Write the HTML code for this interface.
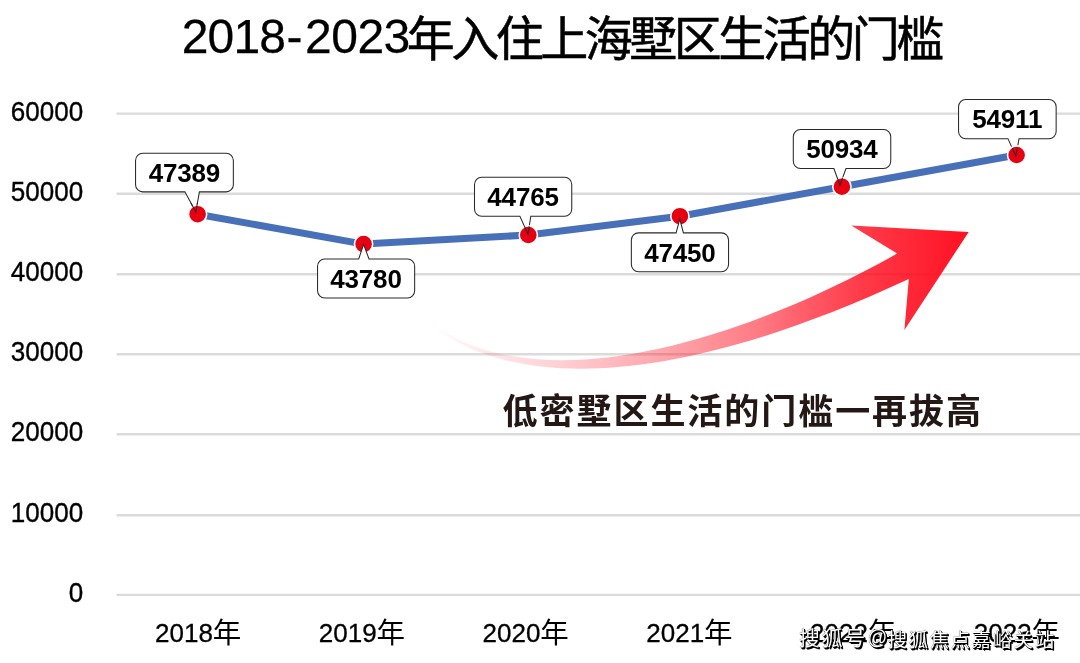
<!DOCTYPE html>
<html lang="zh-CN">
<head>
<meta charset="utf-8">
<title>2018-2023年入住上海墅区生活的门槛</title>
<style>
html,body{margin:0;padding:0;background:#fff;}
body{width:1080px;height:663px;overflow:hidden;position:relative;}
svg{display:block;position:absolute;left:0;top:0;}
text{font-family:"Liberation Sans","Noto Sans CJK SC",sans-serif;}
.ttl{font-size:48px;fill:#000;}
.ttl .d{letter-spacing:-0.55px;stroke:#000;stroke-width:0.25px;}
.ttl .h{letter-spacing:2.4px;}
.ttl .c{letter-spacing:-3.5px;stroke:#000;stroke-width:0.55px;}
.ay{font-size:27.7px;fill:#000;stroke:#000;stroke-width:0.35px;}
.ax{font-size:26px;fill:#000;stroke:#000;stroke-width:0.3px;}
.ax .c{font-size:28.5px;stroke:none;}
.lab{font-size:26px;font-weight:bold;fill:#000;letter-spacing:-0.2px;}
.note{font-size:35px;font-weight:bold;fill:#231815;letter-spacing:1.95px;}
.wm{position:absolute;left:0;top:0;width:1080px;height:663px;color:#fff;font-family:"Liberation Sans","Noto Sans CJK SC",sans-serif;font-weight:400;text-shadow:1px 1px 0 #000,1.6px 1.6px 0 #000,1.3px 1.3px 0 #000,0.5px 0.5px 0 #000,0 0 0.8px #000;white-space:nowrap;}
.wm span{position:absolute;line-height:1;}
.wm .a{left:798.9px;top:628.9px;font-size:20.8px;letter-spacing:2.05px;}
.wm .at{left:867.6px;top:627.9px;font-size:19.5px;}
.wm .b{left:887.7px;top:630.6px;font-size:19.2px;letter-spacing:1.84px;}
</style>
</head>
<body>
<svg width="1080" height="663" viewBox="0 0 1080 663">
<defs>
<linearGradient id="ag" gradientUnits="userSpaceOnUse" x1="425" y1="0" x2="968" y2="0">
<stop offset="0" stop-color="#ff0a1c" stop-opacity="0"/>
<stop offset="0.25" stop-color="#ff0a1c" stop-opacity="0.2"/>
<stop offset="0.5" stop-color="#ff0a1c" stop-opacity="0.42"/>
<stop offset="0.62" stop-color="#ff0a1c" stop-opacity="0.55"/>
<stop offset="0.8" stop-color="#ff0a1c" stop-opacity="0.8"/>
<stop offset="1" stop-color="#ff0a1c" stop-opacity="0.97"/>
</linearGradient>
</defs>
<rect width="1080" height="663" fill="#fff"/>

<g stroke="#dbdbdb" stroke-width="2.4">
<line x1="116.5" y1="113.60" x2="1080" y2="113.60"/>
<line x1="116.5" y1="193.70" x2="1080" y2="193.70"/>
<line x1="116.5" y1="274.30" x2="1080" y2="274.30"/>
<line x1="116.5" y1="354.30" x2="1080" y2="354.30"/>
<line x1="116.5" y1="434.30" x2="1080" y2="434.30"/>
<line x1="116.5" y1="515.30" x2="1080" y2="515.30"/>
<line x1="116.5" y1="594.85" x2="1080" y2="594.85"/>
</g>
<text class="ttl"><tspan class="d" x="181.8" y="53.4" style="letter-spacing:-0.9px">2018</tspan><tspan class="d" x="286.6" y="53.4">-</tspan><tspan class="d" x="305.1" y="53.4">2023</tspan><tspan class="c" x="406.8" y="56.4">年入住上海墅区生活的门槛</tspan></text>
<g class="ay" text-anchor="end" transform="scale(0.94,1)">
<text x="88.51" y="120.80">60000</text>
<text x="88.51" y="200.90">50000</text>
<text x="88.51" y="281.50">40000</text>
<text x="88.51" y="361.50">30000</text>
<text x="88.51" y="441.50">20000</text>
<text x="88.51" y="522.50">10000</text>
<text x="88.51" y="602.05">0</text>
</g>
<g class="ax">
<text><tspan x="155.10" y="641.7">2018</tspan><tspan class="c" x="212.80" y="642.9">年</tspan></text>
<text><tspan x="318.85" y="641.7">2019</tspan><tspan class="c" x="376.55" y="642.9">年</tspan></text>
<text><tspan x="482.60" y="641.7">2020</tspan><tspan class="c" x="540.30" y="642.9">年</tspan></text>
<text><tspan x="646.35" y="641.7">2021</tspan><tspan class="c" x="704.05" y="642.9">年</tspan></text>
<text><tspan x="810.10" y="641.7">2022</tspan><tspan class="c" x="867.80" y="642.9">年</tspan></text>
<text><tspan x="973.85" y="641.7">2023</tspan><tspan class="c" x="1031.55" y="642.9">年</tspan></text>
</g>
<path fill="url(#ag)" d="M424.6 318.5 C530.7 404.6 734.3 345.1 897.1 253.6 L851.3 225.4 L968.7 232 L904.4 329.9 L908.8 279.1 C624.2 411.5 481.3 372.5 424.6 318.5 Z"/>
<polyline fill="none" stroke="#4770b9" stroke-width="7" stroke-linejoin="round" stroke-linecap="round" points="197.6,214.2 363.6,244.1 528.3,235.0 679.9,216.2 841.9,186.7 1016.6,155.0"/>
<g fill="#e60012" stroke="#fff" stroke-width="1.6">
<circle cx="363.6" cy="244.1" r="9.1"/>
<circle cx="679.9" cy="216.2" r="9.1"/>
</g>
<g fill="#fff" stroke="#2a2a2a" stroke-width="1.05" stroke-linejoin="miter">
<path d="M142.75 153.25 H226.15 A7.2 7.2 0 0 1 233.35 160.45 V184.65 A7.2 7.2 0 0 1 226.15 191.85 H199.40 L195.80 212.00 L184.90 191.85 H142.75 A7.2 7.2 0 0 1 135.55 184.65 V160.45 A7.2 7.2 0 0 1 142.75 153.25 Z"/>
<path d="M324.75 259.05 H358.70 L363.60 244.30 L369.00 259.05 H407.45 A7.2 7.2 0 0 1 414.65 266.25 V290.75 A7.2 7.2 0 0 1 407.45 297.95 H324.75 A7.2 7.2 0 0 1 317.55 290.75 V266.25 A7.2 7.2 0 0 1 324.75 259.05 Z"/>
<path d="M481.70 177.25 H564.55 A7.2 7.2 0 0 1 571.75 184.45 V209.05 A7.2 7.2 0 0 1 564.55 216.25 H530.80 L528.00 234.10 L519.90 216.25 H481.70 A7.2 7.2 0 0 1 474.50 209.05 V184.45 A7.2 7.2 0 0 1 481.70 177.25 Z"/>
<path d="M638.55 232.85 H676.10 L679.80 219.10 L683.40 232.85 H721.35 A7.2 7.2 0 0 1 728.55 240.05 V264.55 A7.2 7.2 0 0 1 721.35 271.75 H638.55 A7.2 7.2 0 0 1 631.35 264.55 V240.05 A7.2 7.2 0 0 1 638.55 232.85 Z"/>
<path d="M800.50 129.50 H883.55 A7.2 7.2 0 0 1 890.75 136.70 V161.25 A7.2 7.2 0 0 1 883.55 168.45 H846.00 L839.90 185.20 L833.90 168.45 H800.50 A7.2 7.2 0 0 1 793.30 161.25 V136.70 A7.2 7.2 0 0 1 800.50 129.50 Z"/>
<path d="M965.75 99.50 H1048.95 A7.2 7.2 0 0 1 1056.15 106.70 V131.45 A7.2 7.2 0 0 1 1048.95 138.65 H1019.05 L1015.80 156.20 L1007.95 138.65 H965.75 A7.2 7.2 0 0 1 958.55 131.45 V106.70 A7.2 7.2 0 0 1 965.75 99.50 Z"/>
</g>
<g fill="#e60012" stroke="#fff" stroke-width="1.6">
<circle cx="197.6" cy="214.2" r="9.1"/>
<circle cx="528.3" cy="235.0" r="9.1"/>
<circle cx="841.9" cy="186.7" r="9.1"/>
<circle cx="1016.6" cy="155.0" r="9.1"/>
</g>
<g fill="none" stroke="#2a2a2a" stroke-width="1.05" stroke-linejoin="miter">
<path d="M197.42 202.93 L195.80 212.00 L190.90 202.93"/>
<path d="M529.26 226.07 L528.00 234.10 L524.36 226.07"/>
<path d="M842.64 177.66 L839.90 185.20 L837.20 177.66"/>
<path d="M1017.26 148.30 L1015.80 156.20 L1012.27 148.30"/>
</g>
<g class="lab" text-anchor="middle">
<text x="184.35" y="181.75">47389</text>
<text x="366.00" y="287.70">43780</text>
<text x="523.02" y="205.95">44765</text>
<text x="679.85" y="261.50">47450</text>
<text x="841.93" y="158.18">50934</text>
<text x="1007.25" y="128.27">54911</text>
</g>
<text class="note" x="502.6" y="424">低密墅区生活的门槛一再拔高</text>
</svg>
<div class="wm"><span class="a">搜狐号</span><span class="at">@</span><span class="b">搜狐焦点嘉峪关站</span></div>
</body>
</html>
